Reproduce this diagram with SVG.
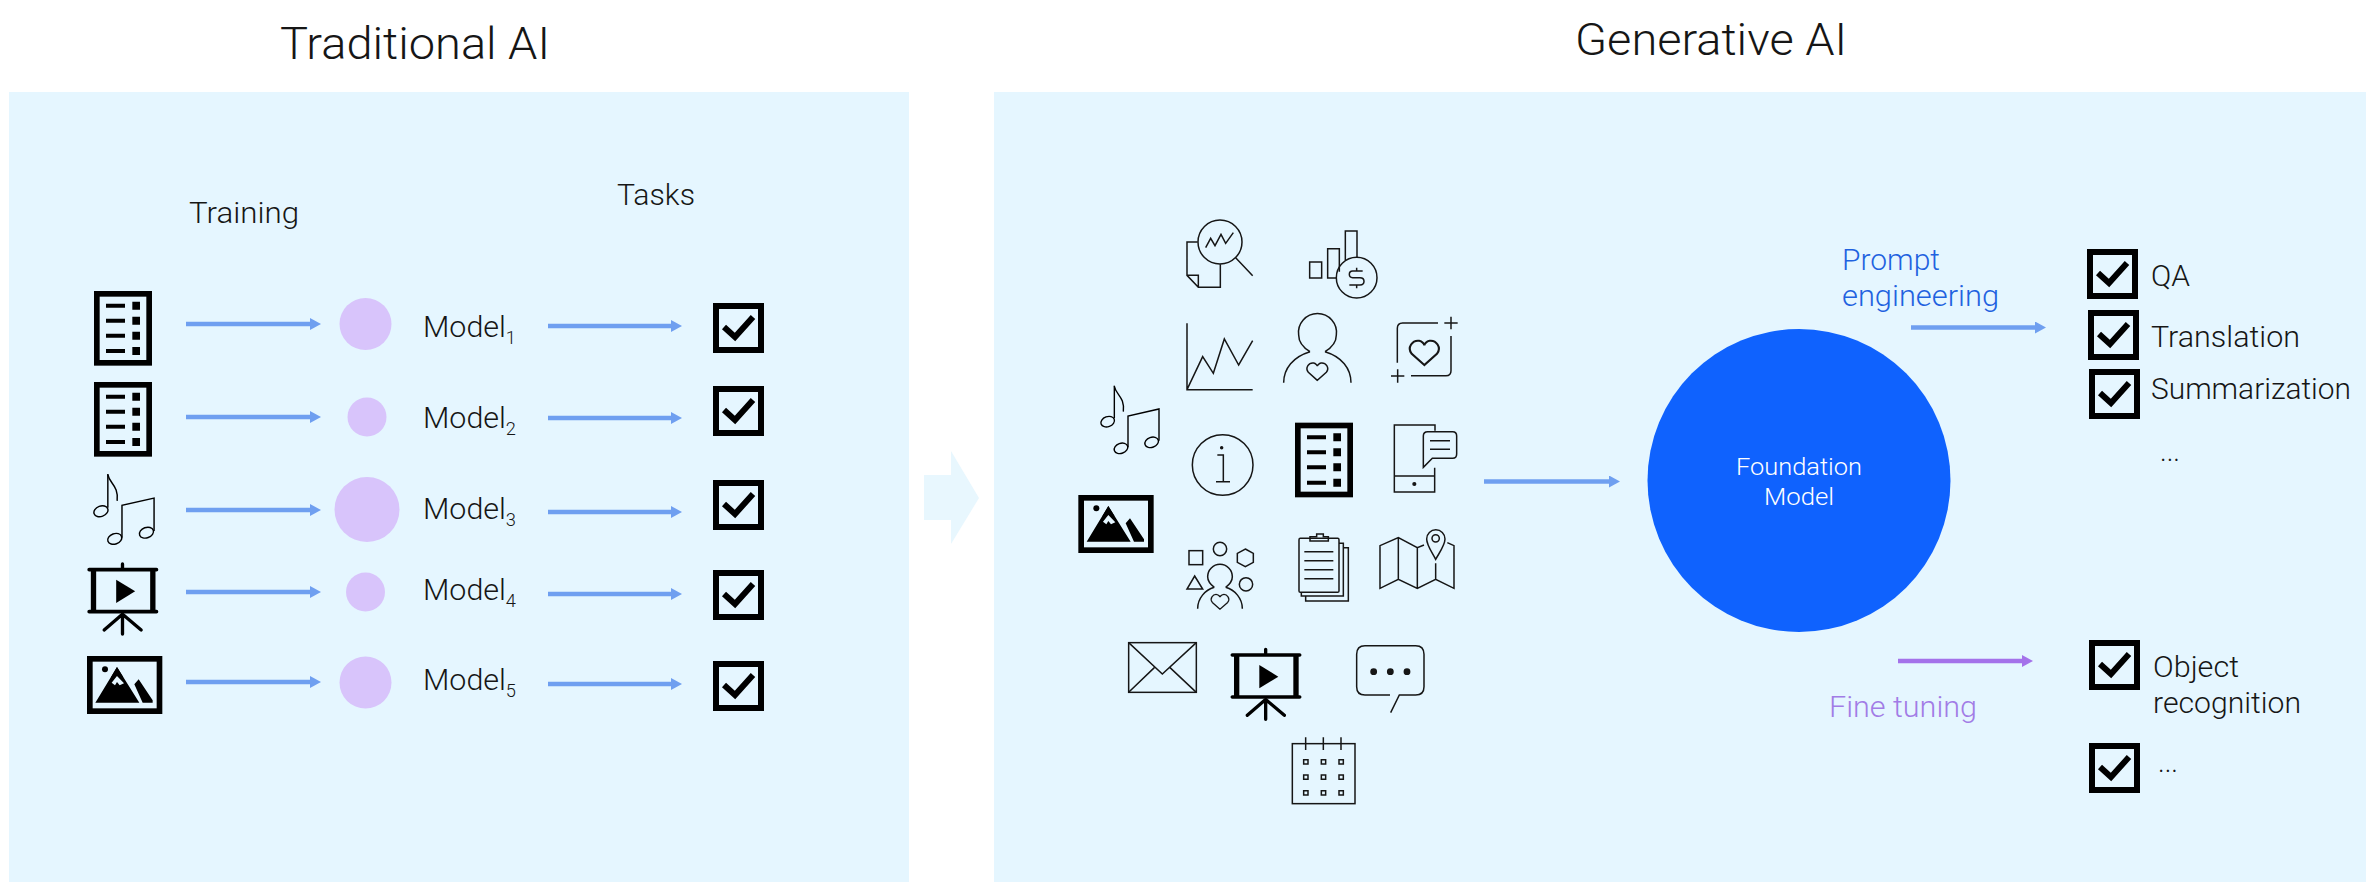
<svg xmlns="http://www.w3.org/2000/svg" width="2374" height="896" viewBox="0 0 2374 896">
<style>
text{font-family:"Roboto","Noto Sans","Liberation Sans",sans-serif;font-weight:300;fill:#161616}
.t{font-size:30px}
.title{font-size:45px}
.sub{font-size:18px}
.ln{fill:none;stroke:#161616;stroke-width:4.5}
.con{fill:none;stroke:#6f9ff0;stroke-width:4.5}
.pur{stroke:#a472ea}
.mod{fill:#d8c4fb}
.box{fill:none;stroke:#000;stroke-width:6}
.chk{fill:none;stroke:#000;stroke-width:6}
</style>
<defs>
<marker id="ah" markerUnits="userSpaceOnUse" markerWidth="11" markerHeight="12" refX="1" refY="6" orient="auto"><path d="M0 0L11 6L0 12Z" fill="#6f9ff0"/></marker>
<marker id="ahp" markerUnits="userSpaceOnUse" markerWidth="11" markerHeight="12" refX="1" refY="6" orient="auto"><path d="M0 0L11 6L0 12Z" fill="#a472ea"/></marker>
<g id="check"><rect class="box" x="3" y="3" width="45" height="44"/><path class="chk" d="M11 24L22 34L40 14"/></g>
<g id="doc"><rect x="8.500" y="8.500" width="157" height="207" fill="none" stroke="#000" stroke-width="17"/>
<path d="M36 44H93M36 89H93M36 134H93M36 180H93" fill="none" stroke="#000" stroke-width="12"/>
<path d="M115 32h23v24h-23zM115 77h23v24h-23zM115 122h23v24h-23zM115 168h23v24h-23z" fill="#000"/></g>
<g id="music" fill="none" stroke="#000" stroke-width="4.200"><path d="M43 0V98"/><path d="M43 2C48 28 75 34 70 78"/>
<ellipse cx="23" cy="108" rx="21" ry="15" transform="rotate(-20 23 108)"/>
<ellipse cx="63" cy="188" rx="21" ry="15" transform="rotate(-20 63 188)"/>
<ellipse cx="155" cy="170" rx="21" ry="15" transform="rotate(-20 155 170)"/>
<path d="M84 185V91L177 70V165"/></g>
<g id="pres"><path d="M5 17H207M5 143H207" fill="none" stroke="#000" stroke-width="11" stroke-linecap="round"/><path d="M18 17V143M196 17V143" fill="none" stroke="#000" stroke-width="16"/>
<path d="M105 0V12M105 150V210M103 152L50 198M107 152L161 198" fill="none" stroke="#000" stroke-width="10" stroke-linecap="round"/><path d="M86 47L143 82L86 117Z" fill="#000"/></g>
<g id="pic"><rect x="8.500" y="8.500" width="209" height="157" fill="none" stroke="#000" stroke-width="17"/><circle cx="54" cy="40" r="9" fill="#000"/>
<path d="M90 33L157 140H25ZM155 70L197 133V140H167L142 85Z" fill="#000"/><path d="M74 80L84 88L90 78L98 88L111 82L90 60Z" fill="#e5f6ff"/><path d="M90 33L109 64L90 58L72 64Z" fill="#000"/></g>
<path id="heart" d="M0 28L-27 4C-38 -10 -25 -26 -11 -24C-5 -23 0 -17 0 -14C0 -17 5 -23 11 -24C25 -26 38 -10 27 4Z"/>
</defs>
<rect width="2374" height="896" fill="#fff"/>
<g id="panels">
<rect x="9" y="92" width="900" height="790" fill="#e5f6ff"/>
<rect x="994" y="92" width="1372" height="790" fill="#e5f6ff"/>
<path id="between-arrow" d="M924 475H951V451L979 498L951 544V520H924Z" fill="#e8f7fe"/>
</g>
<g id="titles">
<text class="title" x="280" y="59" textLength="270" lengthAdjust="spacingAndGlyphs">Traditional AI</text>
<text class="title" x="1575" y="55" textLength="272" lengthAdjust="spacingAndGlyphs">Generative AI</text>
<text class="t" x="189" y="223" textLength="110" lengthAdjust="spacingAndGlyphs">Training</text>
<text class="t" x="617" y="205" textLength="78" lengthAdjust="spacingAndGlyphs">Tasks</text>
</g>
<g id="connectors">
<path class="con" marker-end="url(#ah)" d="M186 324H311"/><path class="con" marker-end="url(#ah)" d="M186 417H311"/><path class="con" marker-end="url(#ah)" d="M186 510H311"/><path class="con" marker-end="url(#ah)" d="M186 592H311"/><path class="con" marker-end="url(#ah)" d="M186 682H311"/>
<path class="con" marker-end="url(#ah)" d="M548 326H672"/><path class="con" marker-end="url(#ah)" d="M548 418H672"/><path class="con" marker-end="url(#ah)" d="M548 512H672"/><path class="con" marker-end="url(#ah)" d="M548 594H672"/><path class="con" marker-end="url(#ah)" d="M548 684H672"/>
<path class="con" marker-end="url(#ah)" d="M1484 481.500H1610"/>
<path class="con" marker-end="url(#ah)" d="M1911 327.500H2036"/>
<path class="con pur" marker-end="url(#ahp)" d="M1898 661H2023"/>
</g>
<g id="row1"><use href="#doc" transform="translate(94 291) scale(.3333)"/><circle class="mod" cx="365.500" cy="324" r="26"/><text class="t" x="423" y="337" textLength="93" lengthAdjust="spacingAndGlyphs">Model<tspan class="sub" dy="7">1</tspan></text><use href="#check" x="713" y="303"/></g>
<g id="row2"><use href="#doc" transform="translate(94 382) scale(.3333)"/><circle class="mod" cx="367" cy="417" r="19.500"/><text class="t" x="423" y="428" textLength="93" lengthAdjust="spacingAndGlyphs">Model<tspan class="sub" dy="7">2</tspan></text><use href="#check" x="713" y="386"/></g>
<g id="row3"><use href="#music" transform="translate(93 474) scale(.345)"/><circle class="mod" cx="367" cy="509.500" r="32.500"/><text class="t" x="423" y="519" textLength="93" lengthAdjust="spacingAndGlyphs">Model<tspan class="sub" dy="7">3</tspan></text><use href="#check" x="713" y="480"/></g>
<g id="row4"><use href="#pres" transform="translate(87.500 564) scale(.3333)"/><circle class="mod" cx="365.500" cy="592" r="19.500"/><text class="t" x="423" y="600" textLength="93" lengthAdjust="spacingAndGlyphs">Model<tspan class="sub" dy="7">4</tspan></text><use href="#check" x="713" y="570"/></g>
<g id="row5"><use href="#pic" transform="translate(87 656) scale(.3333)"/><circle class="mod" cx="365.500" cy="682.500" r="26"/><text class="t" x="423" y="690" textLength="93" lengthAdjust="spacingAndGlyphs">Model<tspan class="sub" dy="7">5</tspan></text><use href="#check" x="713" y="661"/></g>
<g id="icons-a" transform="translate(1060 200) scale(.33333)">
<g id="icon-report" class="ln"><circle cx="480" cy="126" r="66"/><path d="M527 173L578 227M437 143L452 115L465 137L483 103L497 130L520 98M413 126H381V226L415 262H481V193M381 226H415V262"/></g>
<g id="icon-bars" class="ln"><path d="M749 186H785V234H749ZM830 234H803V146H838V215M856 180V93H891V172"/><circle cx="890" cy="233" r="61"/><path d="M908 213H878Q868 213 868 223Q868 233 878 233H900Q912 233 912 244Q912 255 900 255H868M890 203V213M890 255V265"/></g>
<g id="icon-chart" class="ln"><path d="M381 370V569H578M381 569L428 470L460 520L493 417L536 495L578 422"/></g>
<g id="icon-person" class="ln"><path d="M750 455C725 440 716 425 716 405A57 57 0 1 1 829 405C829 425 820 440 795 455M750 455C700 470 671 505 671 548M795 455C845 470 873 505 873 548"/><use href="#heart" transform="translate(772 513)"/></g>
<g id="icon-heartframe" class="ln"><path d="M1012 488V385Q1012 369 1028 369H1134M1053 527H1158Q1173 527 1173 512V408M1153 369H1193M1173 350V388M993 528H1033M1013 508V548"/><use href="#heart" transform="translate(1093 456) scale(1.4)"/></g>
<g id="icon-music-r"><use href="#music" transform="translate(120 557)"/></g>
<g id="icon-info" class="ln"><circle cx="488" cy="795" r="91"/><circle cx="485" cy="743" r="3" fill="#161616"/><path d="M472 765H490V845M468 845H510"/></g>
<g id="icon-doc-r"><use href="#doc" transform="translate(705 668)"/></g>
<g id="icon-phone" class="ln"><path d="M1125 692V675H1003V876H1124V803M1003 828H1124"/><circle cx="1063" cy="852" r="4" fill="#161616"/><path d="M1090 802V708Q1090 695 1103 695H1178Q1190 695 1190 708V762Q1190 775 1178 775H1117ZM1110 722H1170M1110 748H1170"/></g>
</g>
<g id="icons-b" transform="translate(1060 480) scale(.33333)">
<g id="icon-pic-r"><use href="#pic" transform="translate(55 45)"/></g>
<g id="icon-people" class="ln"><rect x="387" y="212" width="41" height="42"/><circle cx="480" cy="207" r="20"/><path d="M556 207L580 220V247L556 260L532 247V220ZM404 288L428 327H381Z"/><circle cx="558" cy="313" r="20"/><path d="M463 322C450 312 443 302 443 290A37 37 0 1 1 517 290C517 302 510 312 497 322M413 386C413 355 435 330 463 322M547 386C547 355 525 330 497 322"/><use href="#heart" transform="translate(480 364) scale(.85)"/></g>
<g id="icon-clip" class="ln"><rect x="717" y="175" width="120" height="162" rx="4"/><path d="M750 183V170H770V162H790V170H805V183ZM733 215H820M733 242H820M733 269H820M733 296H820M837 190H850V348H724V337M850 203H865V363H737V348"/></g>
<g id="icon-map" class="ln"><path d="M1092 195L1072 203L1015 173L960 197V325L1015 298L1072 325L1127 298L1182 325V197L1162 188M1015 173V298M1072 203V325M1127 250V298M1127 238C1115 215 1100 195 1100 177A27 27 0 1 1 1155 177C1155 195 1140 215 1127 238Z"/><circle cx="1127" cy="175" r="11"/></g>
<g id="icon-mail" class="ln"><rect x="206" y="488" width="203" height="149"/><path d="M206 488L307 582L409 488M206 637L283 563M409 637L330 563"/></g>
<g id="icon-pres-r"><use href="#pres" transform="translate(512 508)"/></g>
<g id="icon-chat" class="ln"><path d="M990 645H915Q890 645 890 620V523Q890 497 915 497H1067Q1092 497 1092 523V620Q1092 645 1067 645H1018L992 698"/><circle cx="941" cy="575" r="8" fill="#161616"/><circle cx="991" cy="575" r="8" fill="#161616"/><circle cx="1041" cy="575" r="8" fill="#161616"/></g>
<g id="icon-cal" class="ln"><rect x="697" y="791" width="188" height="180"/><path d="M737 772V810M790 772V810M843 772V810"/><path d="M731 839h13v13h-13zM784 839h13v13h-13zM837 839h13v13h-13zM731 885h13v13h-13zM784 885h13v13h-13zM837 885h13v13h-13zM731 932h13v13h-13zM784 932h13v13h-13zM837 932h13v13h-13z"/></g>
</g>
<g id="foundation-model"><circle cx="1799" cy="480.500" r="151.500" fill="#0f62fe"/>
<text x="1736" y="475" style="font-size:24px;fill:#fff" textLength="126" lengthAdjust="spacingAndGlyphs">Foundation</text>
<text x="1764" y="505" style="font-size:24px;fill:#fff" textLength="70" lengthAdjust="spacingAndGlyphs">Model</text></g>
<g id="prompt-label"><text class="t" style="fill:#1f62e0" x="1842" y="270" textLength="98" lengthAdjust="spacingAndGlyphs">Prompt</text><text class="t" style="fill:#1f62e0" x="1842" y="306" textLength="157" lengthAdjust="spacingAndGlyphs">engineering</text></g>
<g id="fine-label"><text class="t" style="fill:#a27ce6" x="1829" y="717" textLength="148" lengthAdjust="spacingAndGlyphs">Fine tuning</text></g>
<g id="task-qa"><use href="#check" x="2087" y="249"/><text class="t" x="2151" y="286" textLength="39" lengthAdjust="spacingAndGlyphs">QA</text></g>
<g id="task-translation"><use href="#check" x="2088" y="310"/><text class="t" x="2151" y="347" textLength="149" lengthAdjust="spacingAndGlyphs">Translation</text></g>
<g id="task-summarization"><use href="#check" x="2089" y="369"/><text class="t" x="2151" y="399" textLength="200" lengthAdjust="spacingAndGlyphs">Summarization</text></g>
<g id="task-more"><text class="t" x="2160" y="461" textLength="20" lengthAdjust="spacingAndGlyphs">...</text></g>
<g id="task-object"><use href="#check" x="2089" y="640"/><text class="t" x="2153" y="677" textLength="86" lengthAdjust="spacingAndGlyphs">Object</text><text class="t" x="2153" y="713" textLength="148" lengthAdjust="spacingAndGlyphs">recognition</text></g>
<g id="task-more2"><use href="#check" x="2089" y="743"/><text class="t" x="2158" y="772" textLength="20" lengthAdjust="spacingAndGlyphs">...</text></g>
</svg>
